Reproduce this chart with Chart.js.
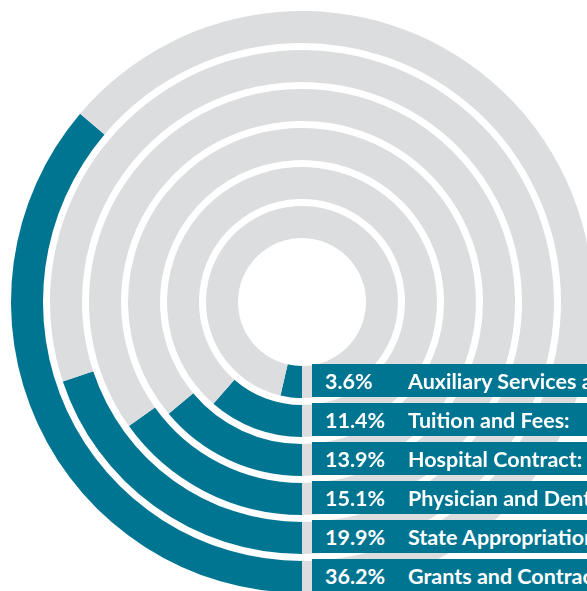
<!DOCTYPE html>
<html>
<head>
<meta charset="utf-8">
<script src="https://cdn.jsdelivr.net/npm/chart.js@4"></script>
<style>
  html, body { margin: 0; padding: 0; background: #fff; overflow: hidden; width: 587px; height: 591px; }
  #wrap { position: relative; width: 587px; height: 591px; overflow: hidden; }
  #chart { position: absolute; left: 0; top: 0; }
  .row {
    position: absolute; background: #007592; color: #fff; white-space: nowrap;
    font-family: Lato, "Open Sans", sans-serif; font-weight: 700; font-size: 21.5px;
    width: 400px; display: flex; align-items: center;
  }
  .row .pct { position: absolute; left: 13px; }
  .row .lbl { position: absolute; left: 96px; }
</style>
</head>
<body>
<div id="wrap">
  <canvas id="chart" width="604" height="604"></canvas>
</div>
<script>
// outer ring first, like Chart.js stacks doughnut datasets
const categories = [
  'Grants and Contracts:',
  'State Appropriations:',
  'Physician and Dental Practice Plans:',
  'Hospital Contract:',
  'Tuition and Fees:',
  'Auxiliary Services and Other:'
];
const shares = [36.2, 19.9, 15.1, 13.9, 11.4, 3.6];

const TEAL = '#007592';
const TRACK = '#dcdddf';

const datasets = [];
shares.forEach((v, i) => {
  if (i > 0) {
    // white gap between rings
    datasets.push({ data: [1], backgroundColor: ['rgba(0,0,0,0)'], borderWidth: 0, weight: 7, spacer: true });
  }
  datasets.push({
    label: categories[i],
    data: [v, 100 - v],
    backgroundColor: [TEAL, TRACK],
    borderWidth: 0,
    weight: 32
  });
});

const chart = new Chart(document.getElementById('chart'), {
  type: 'doughnut',
  data: { labels: ['share', 'rest'], datasets: datasets },
  options: {
    responsive: false,
    animation: false,
    events: [],
    rotation: 180,
    cutout: 64,
    layout: { padding: 11 },
    plugins: { legend: { display: false }, tooltip: { enabled: false } }
  }
});

// label boxes, lined up with each ring where it crosses the bottom
const wrap = document.getElementById('wrap');
chart.data.datasets.forEach((ds, d) => {
  if (ds.spacer) return;
  const arc = chart.getDatasetMeta(d).data[0];
  const i = shares.indexOf(ds.data[0]);
  const row = document.createElement('div');
  row.className = 'row';
  row.style.left = (arc.x + 10) + 'px';
  row.style.top = (arc.y + arc.innerRadius - 2) + 'px';
  row.style.height = (arc.outerRadius - arc.innerRadius + 1) + 'px';
  row.innerHTML = '<span class="pct">' + shares[i].toFixed(1) + '%</span><span class="lbl">' + categories[i] + '</span>';
  wrap.appendChild(row);
});
</script>
</body>
</html>
